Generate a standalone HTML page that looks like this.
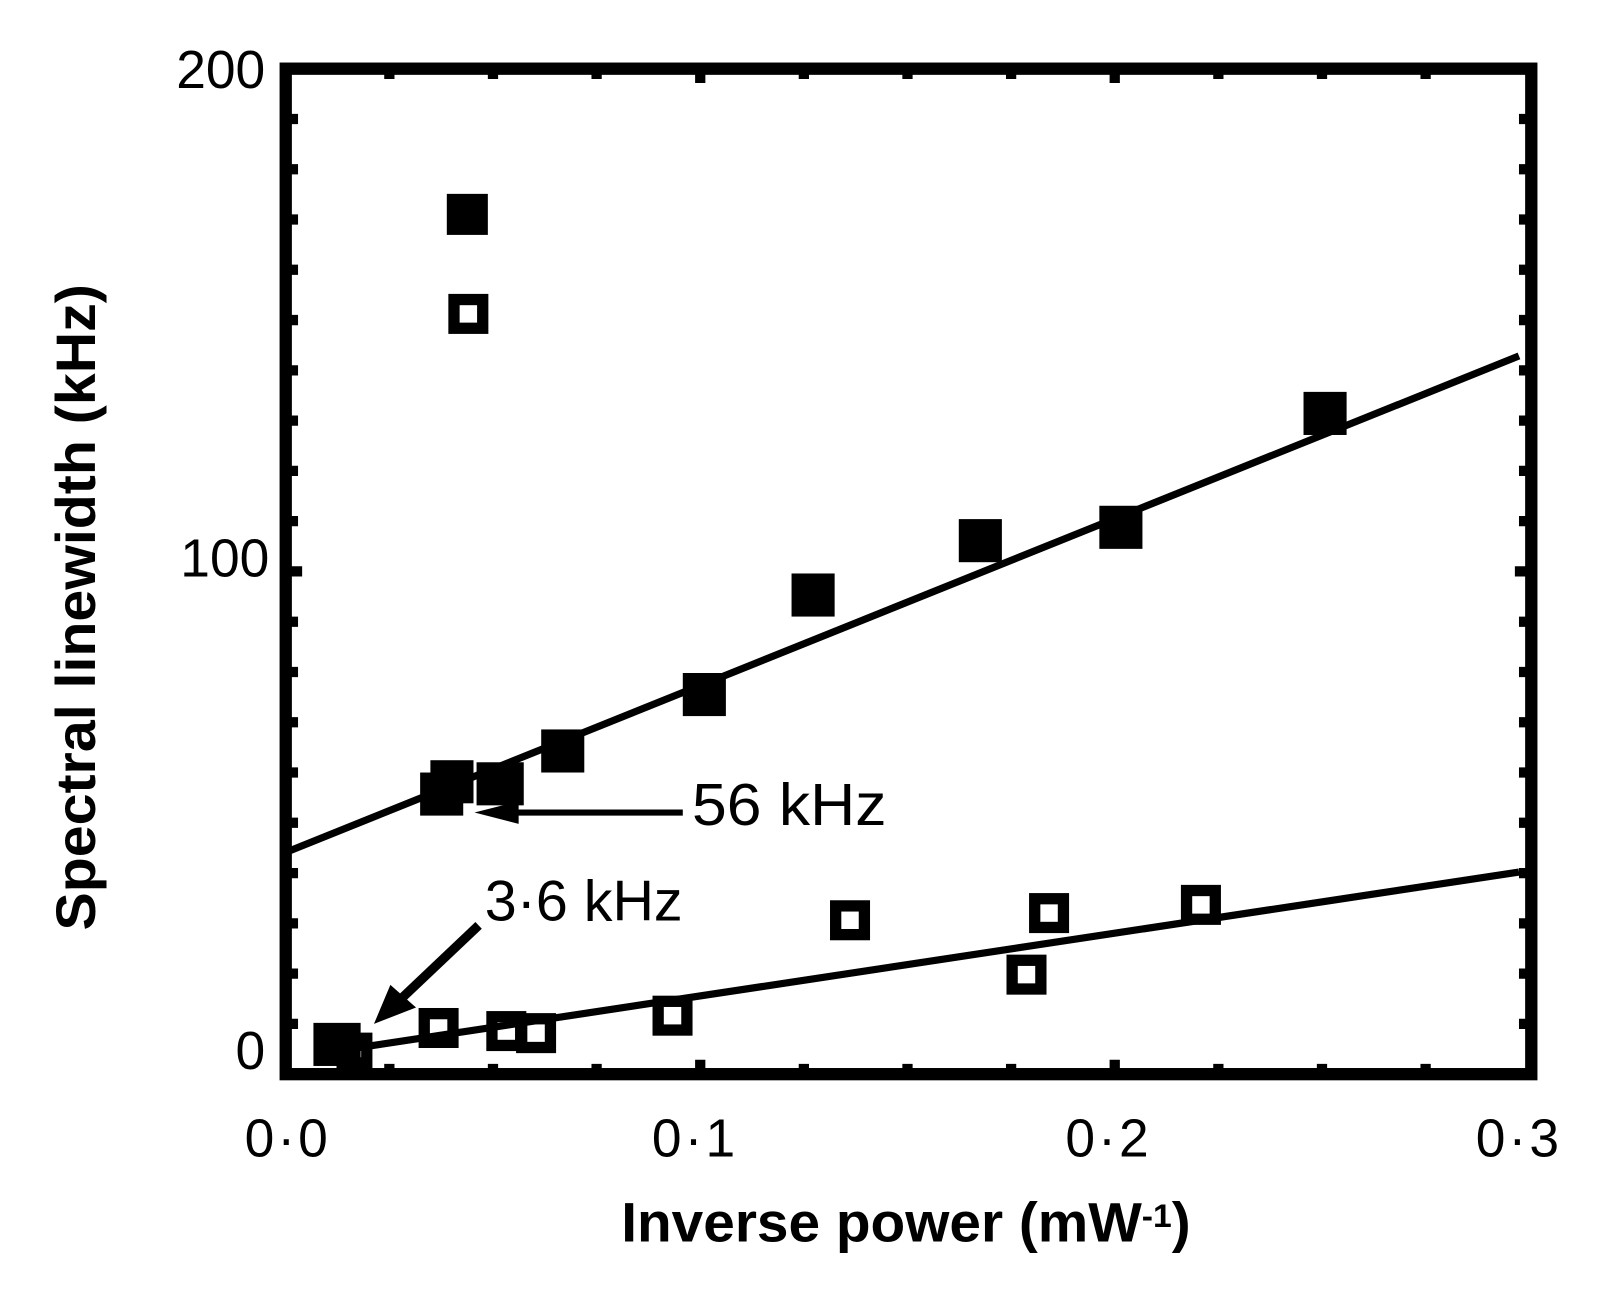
<!DOCTYPE html>
<html><head><meta charset="utf-8"><style>
html,body{margin:0;padding:0;background:#fff;}
svg{display:block;}
text{font-family:"Liberation Sans",sans-serif;fill:#000;}
</style></head><body>
<svg width="1610" height="1292" viewBox="0 0 1610 1292" xmlns="http://www.w3.org/2000/svg">
<g transform="translate(0.5,2) scale(1.026)">
<!-- frame -->
<rect x="278" y="65" width="1214" height="980" fill="none" stroke="#000" stroke-width="12"/>
<!-- ticks -->
<g stroke="#000" stroke-width="10">
<path d="M278 114h12M278 163h12M278 212h12M278 261h12M278 310h12M278 359h12M278 408h12M278 457h12M278 506h12M278 555h16M278 604h12M278 653h12M278 702h12M278 751h12M278 800h12M278 849h12M278 898h12M278 947h12M278 996h12"/>
<path d="M1492 114h-12M1492 163h-12M1492 212h-12M1492 261h-12M1492 310h-12M1492 359h-12M1492 408h-12M1492 457h-12M1492 506h-12M1492 555h-16M1492 604h-12M1492 653h-12M1492 702h-12M1492 751h-12M1492 800h-12M1492 849h-12M1492 898h-12M1492 947h-12M1492 996h-12"/>
<path d="M379 1045v-10M480 1045v-10M581 1045v-10M682 1045v-14M783 1045v-10M884 1045v-10M985 1045v-10M1086 1045v-14M1187 1045v-10M1288 1045v-10M1389 1045v-10"/>
<path d="M379 65v10M480 65v10M581 65v10M682 65v14M783 65v10M884 65v10M985 65v10M1086 65v14M1187 65v10M1288 65v10M1389 65v10"/>
</g>
<!-- fit lines -->
<line x1="280" y1="828" x2="1480" y2="345" stroke="#000" stroke-width="7"/>
<line x1="330" y1="1022" x2="1480" y2="848" stroke="#000" stroke-width="7"/>
<!-- filled squares -->
<g fill="#000">
<rect x="435" y="187" width="40" height="40"/>
<rect x="1270" y="380" width="42" height="42"/>
<rect x="1071" y="491" width="42" height="42"/>
<rect x="934" y="504" width="42" height="42"/>
<rect x="771" y="557" width="42" height="42"/>
<rect x="665" y="654" width="42" height="42"/>
<rect x="527" y="709" width="42" height="42"/>
<rect x="419" y="739" width="42" height="42"/>
<rect x="464" y="741" width="46" height="42"/>
<rect x="409" y="751" width="42" height="42"/>
<rect x="305" y="995" width="46" height="42"/>
</g>
<!-- open squares -->
<g fill="none" stroke="#000" stroke-width="11">
<rect x="442" y="290" width="28" height="28"/>
<rect x="1156" y="866" width="28" height="28"/>
<rect x="1008" y="874" width="28" height="28"/>
<rect x="814" y="881" width="28" height="28"/>
<rect x="986" y="934" width="28" height="28"/>
<rect x="641" y="974" width="28" height="28"/>
<rect x="508" y="991" width="28" height="28"/>
<rect x="479" y="989" width="28" height="28"/>
<rect x="413" y="986" width="28" height="28"/>
<rect x="333" y="1010" width="24" height="24"/>
</g>
<!-- annotations -->
<line x1="665" y1="790" x2="500" y2="790" stroke="#000" stroke-width="6"/>
<polygon points="462,790 505,779 505,801" fill="#000"/>
<line x1="466" y1="900" x2="390" y2="972" stroke="#000" stroke-width="9"/>
<polygon points="364,996 380,958 405,980" fill="#000"/>
<text x="674" y="802" font-size="58" transform="translate(674,802) scale(1.05,1) translate(-674,-802)">56 kHz</text>
<text x="472" y="895" font-size="56">3·6 kHz</text>
<!-- tick labels -->
<text x="258" y="84" font-size="52" text-anchor="end">200</text>
<text x="262" y="560" font-size="52" text-anchor="end">100</text>
<text x="258" y="1040" font-size="52" text-anchor="end">0</text>
<text x="280" y="1125" font-size="52" text-anchor="middle" letter-spacing="3">0·0</text>
<text x="677" y="1125" font-size="52" text-anchor="middle" letter-spacing="3">0·1</text>
<text x="1080" y="1125" font-size="52" text-anchor="middle" letter-spacing="3">0·2</text>
<text x="1480" y="1125" font-size="52" text-anchor="middle" letter-spacing="3">0·3</text>
<!-- axis titles -->
<text x="605" y="1208" font-size="54" font-weight="bold" textLength="555" lengthAdjust="spacingAndGlyphs">Inverse power (mW<tspan font-size="32" dy="-14">-1</tspan><tspan dy="14">)</tspan></text>
<text transform="translate(92,590) rotate(-90)" font-size="54" font-weight="bold" text-anchor="middle" textLength="630" lengthAdjust="spacingAndGlyphs">Spectral linewidth (kHz)</text>
</g>
</svg>
</body></html>
